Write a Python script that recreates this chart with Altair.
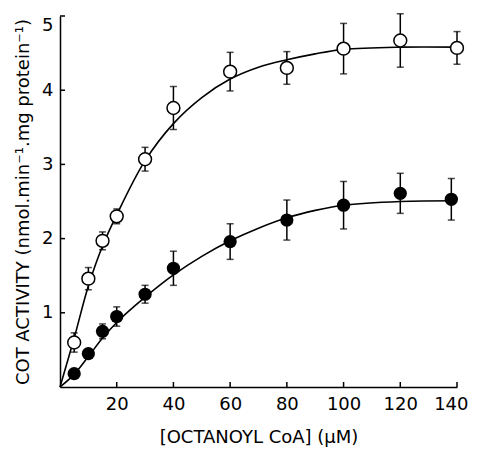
import altair as alt
import pandas as pd

# --- data ---
open_conc = [5, 10, 15, 20, 30, 40, 60, 80, 100, 120, 140]
open_mean = [0.60, 1.46, 1.97, 2.30, 3.07, 3.76, 4.25, 4.30, 4.56, 4.67, 4.57]
open_err = [0.13, 0.15, 0.12, 0.10, 0.16, 0.29, 0.26, 0.22, 0.34, 0.36, 0.22]

filled_conc = [5, 10, 15, 20, 30, 40, 60, 80, 100, 120, 138]
filled_mean = [0.18, 0.45, 0.75, 0.95, 1.25, 1.60, 1.96, 2.25, 2.45, 2.61, 2.53]
filled_err = [0.04, 0.05, 0.10, 0.13, 0.12, 0.23, 0.24, 0.27, 0.32, 0.27, 0.28]

open_fit_x = [0, 5, 10, 15, 20, 30, 40, 50, 60, 70, 80, 90, 100, 120, 140]
open_fit_y = [0, 0.66, 1.36, 1.90, 2.32, 3.05, 3.55, 3.90, 4.15, 4.31, 4.41, 4.49, 4.55, 4.58, 4.58]

filled_fit_x = [0, 5, 10, 15, 20, 30, 40, 50, 60, 70, 80, 90, 100, 120, 140]
filled_fit_y = [0, 0.17, 0.41, 0.66, 0.87, 1.21, 1.51, 1.76, 1.97, 2.14, 2.28, 2.38, 2.45, 2.50, 2.51]

x_ticks = [20, 40, 60, 80, 100, 120, 140]
y_ticks = [1, 2, 3, 4, 5]

W, H = 397, 371
FONT = "DejaVu Sans"

pts = pd.concat([
    pd.DataFrame({"c": open_conc, "m": open_mean, "e": open_err, "s": "open"}),
    pd.DataFrame({"c": filled_conc, "m": filled_mean, "e": filled_err, "s": "filled"}),
])
pts["lo"] = pts["m"] - pts["e"]
pts["hi"] = pts["m"] + pts["e"]

fit = pd.concat([
    pd.DataFrame({"c": open_fit_x, "v": open_fit_y, "s": "open"}),
    pd.DataFrame({"c": filled_fit_x, "v": filled_fit_y, "s": "filled"}),
])

xs = alt.Scale(domain=[0, 140], nice=False)
ys = alt.Scale(domain=[0, 5], nice=False)

xax = alt.Axis(values=x_ticks, format="d", title="[OCTANOYL CoA] (μM)", tickSize=0, labelPadding=8,
               titlePadding=15, titleFontSize=18, labelFlush=True, labelFlushOffset=11, grid=False)
yax = alt.Axis(values=y_ticks, format="d", title="COT ACTIVITY (nmol.min⁻¹.mg protein⁻¹)", tickSize=0,
               labelPadding=7, titlePadding=9, titleFontSize=18, labelFlush=True, grid=False)

base = alt.Chart(pts)

lines = alt.Chart(fit).mark_line(color="black", strokeWidth=1.6, interpolate="catmull-rom").encode(
    x=alt.X("c:Q", scale=xs, axis=xax),
    y=alt.Y("v:Q", scale=ys, axis=yax),
    detail="s:N",
)

bars = base.mark_rule(color="black", strokeWidth=1.5).encode(
    x=alt.X("c:Q", scale=xs), y=alt.Y("lo:Q", scale=ys), y2="hi:Q"
)
cap_hi = base.mark_tick(color="black", orient="horizontal", size=7, thickness=1.5).encode(
    x=alt.X("c:Q", scale=xs), y=alt.Y("hi:Q", scale=ys)
)
cap_lo = base.mark_tick(color="black", orient="horizontal", size=7, thickness=1.5).encode(
    x=alt.X("c:Q", scale=xs), y=alt.Y("lo:Q", scale=ys)
)

circ_open = base.transform_filter(alt.datum.s == "open").mark_point(
    shape="circle", size=165, filled=True, fill="white", stroke="black", strokeWidth=1.5, opacity=1
).encode(x=alt.X("c:Q", scale=xs), y=alt.Y("m:Q", scale=ys))

circ_filled = base.transform_filter(alt.datum.s == "filled").mark_point(
    shape="circle", size=175, filled=True, color="black", opacity=1
).encode(x=alt.X("c:Q", scale=xs), y=alt.Y("m:Q", scale=ys))

xt = alt.Chart(pd.DataFrame({"t": x_ticks})).mark_rule(color="black", strokeWidth=1.5).encode(
    x=alt.X("t:Q", scale=xs), y=alt.value(H), y2=alt.value(H - 5)
)
yt = alt.Chart(pd.DataFrame({"t": y_ticks})).mark_rule(color="black", strokeWidth=1.5).encode(
    y=alt.Y("t:Q", scale=ys), x=alt.value(0), x2=alt.value(5)
)

chart = alt.layer(lines, bars, cap_hi, cap_lo, xt, yt, circ_open, circ_filled).properties(
    width=W, height=H,
    background="white",
    autosize=alt.AutoSizeParams(type="none"),
    padding={"left": 52, "top": 8, "right": 12, "bottom": 68},
).configure_view(stroke=None).configure_axis(
    domainColor="black", domainWidth=1.5, labelColor="black", titleColor="black",
    labelFont=FONT, titleFont=FONT, labelFontSize=18,
    titleFontWeight="normal",
)

chart.save("out.html", embed_options={"renderer": "svg", "actions": False})
